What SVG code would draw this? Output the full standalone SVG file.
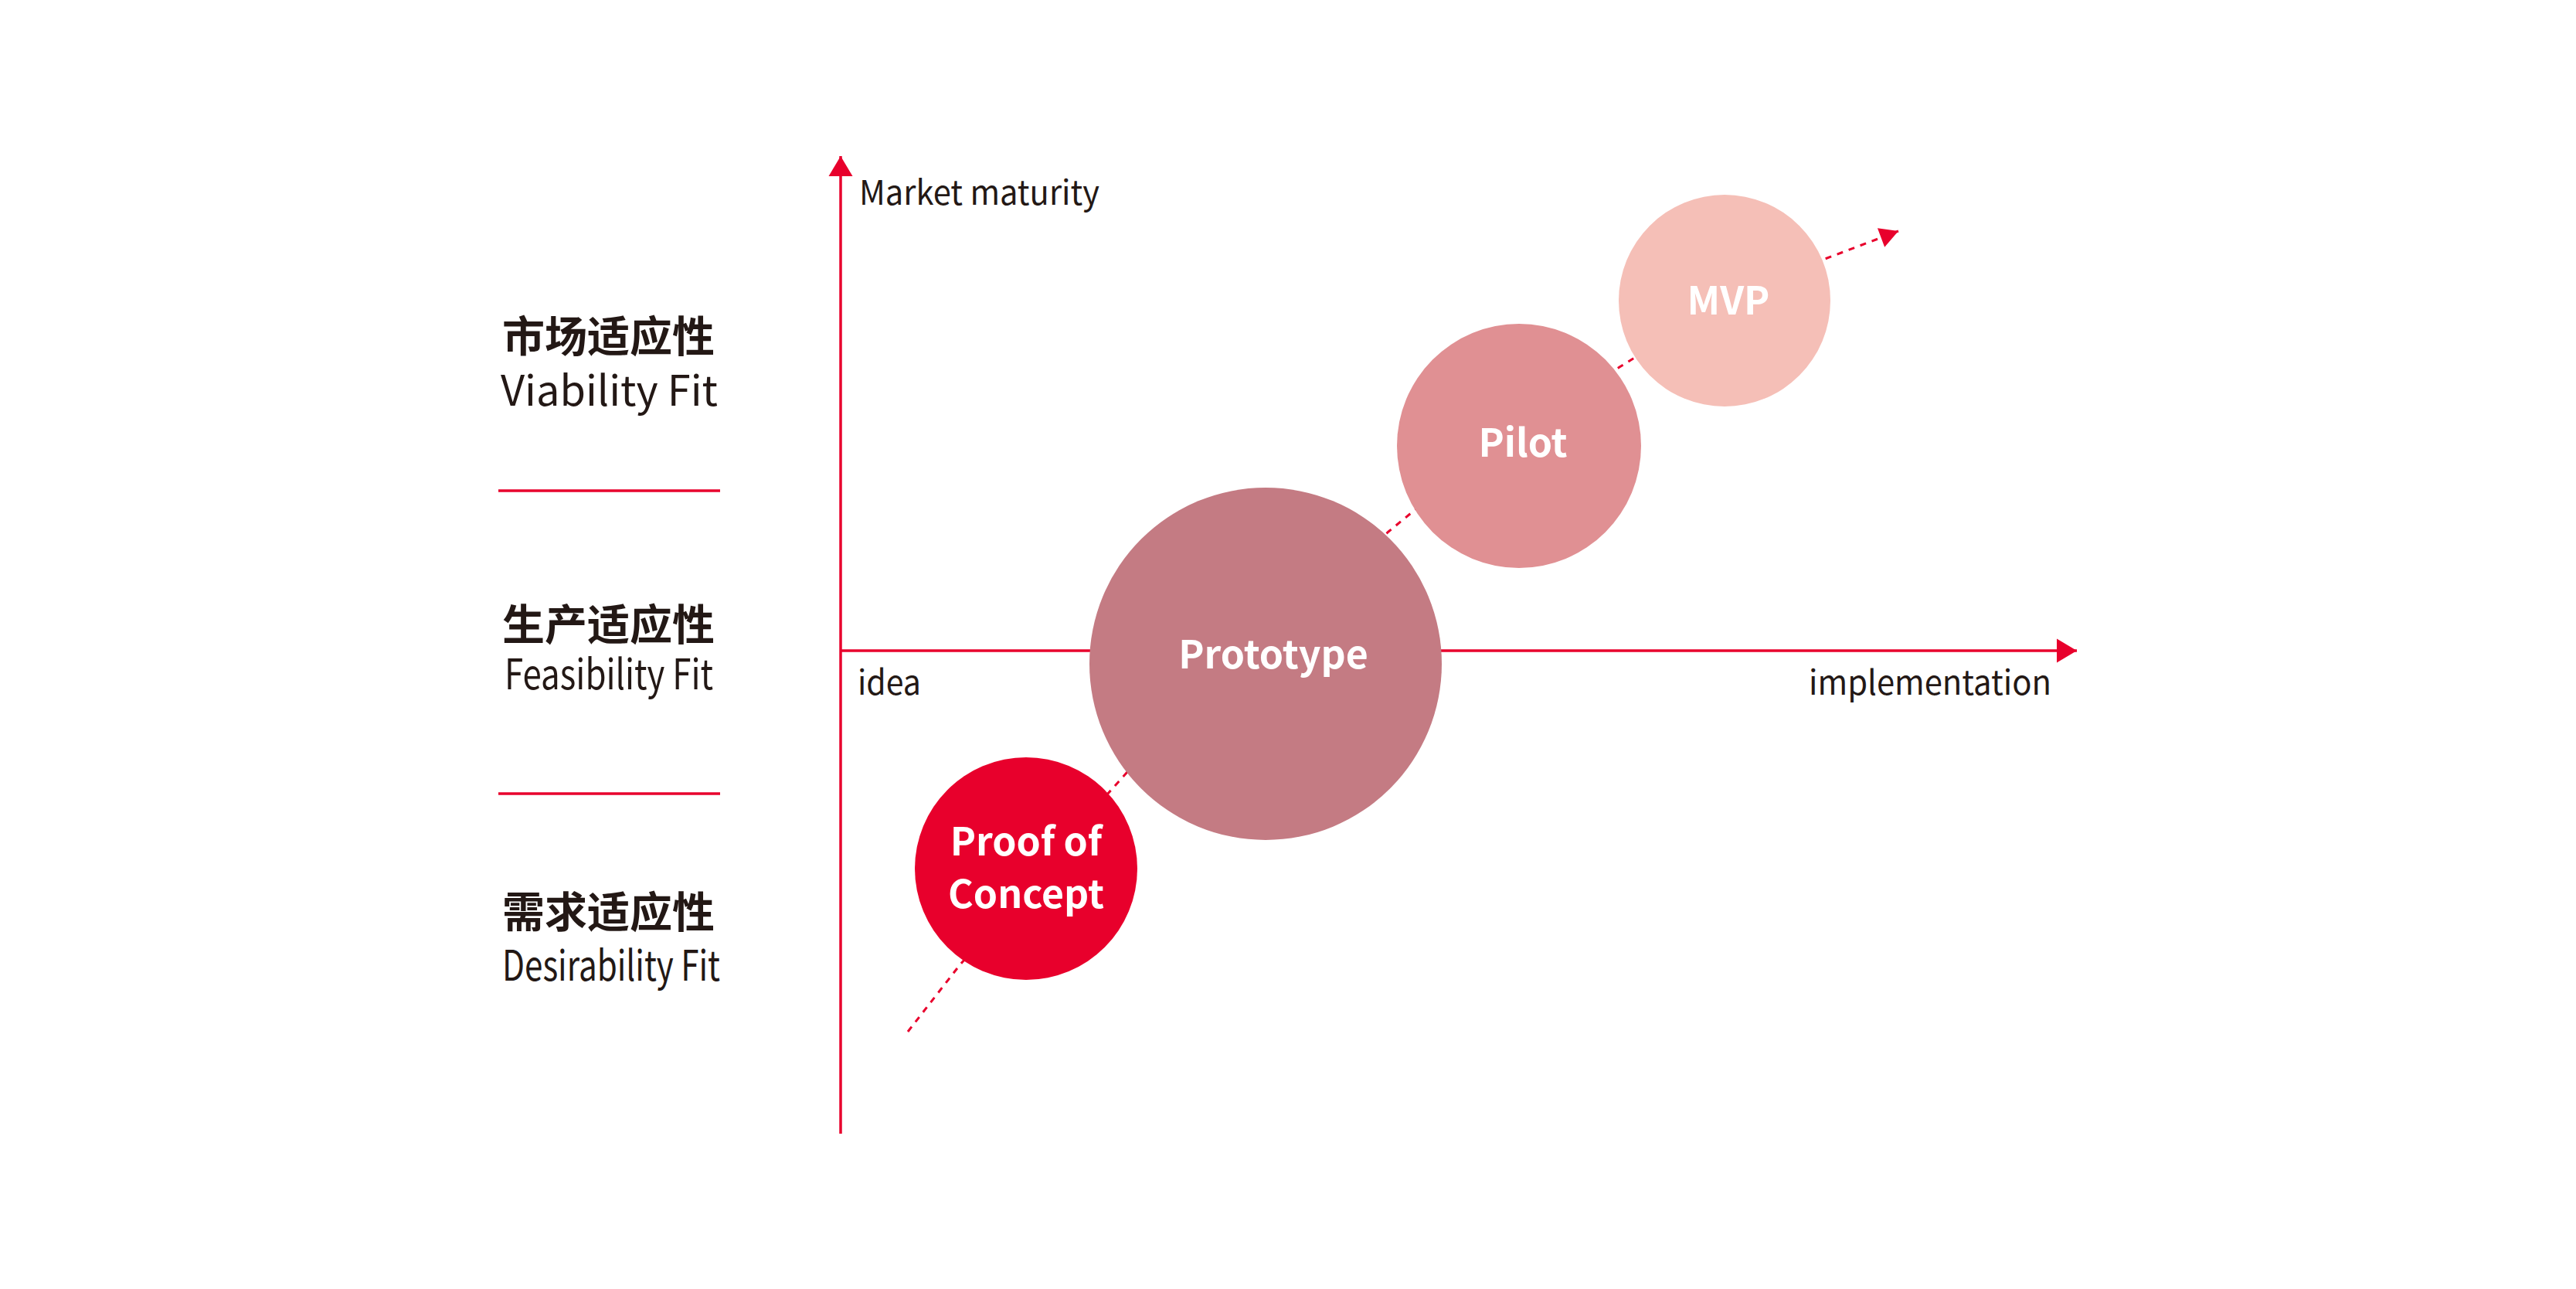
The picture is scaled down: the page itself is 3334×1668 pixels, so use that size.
<svg xmlns="http://www.w3.org/2000/svg" width="3334" height="1668" viewBox="0 0 3334 1668">
<style>
.cn{font-family:"Noto Sans CJK SC","Noto Sans",sans-serif;font-weight:700;font-size:55px;fill:#231815}
.en{font-family:"Noto Sans CJK SC","Noto Sans",sans-serif;font-weight:400;font-size:54px;fill:#231815}
.ax{font-family:"Noto Sans CJK SC","Noto Sans",sans-serif;font-weight:400;font-size:44px;fill:#231815}
.lb{font-family:"Noto Sans CJK SC","Noto Sans",sans-serif;font-weight:700;font-size:50px;fill:#ffffff;text-anchor:middle}
.axis{stroke:#E8002C;stroke-width:3.5;fill:none}
.sep{stroke:#E8002C;stroke-width:3.5}
.dash{stroke:#E8002C;stroke-width:3;fill:none;stroke-dasharray:8 8}
</style>
<defs>
<marker id="axArrow" markerUnits="userSpaceOnUse" markerWidth="40" markerHeight="40" viewBox="-30 -20 40 40" refX="0" refY="0" orient="auto">
<path d="M0,0 L-26,-15.5 L-26,15.5 Z" fill="#E8002C"/>
</marker>
<marker id="dashArrow" markerUnits="userSpaceOnUse" markerWidth="40" markerHeight="40" viewBox="-30 -20 40 40" refX="0" refY="0" orient="auto">
<path d="M0,0 L-24,-13 L-24,13 Z" fill="#E8002C"/>
</marker>
</defs>
<rect width="3334" height="1668" fill="#ffffff"/>
<g id="labels">
<text class="cn" x="650" y="455">市场适应性</text>
<text class="en" x="648" y="525" textLength="281" lengthAdjust="spacingAndGlyphs">Viability Fit</text>
<line class="sep" x1="645" y1="635" x2="932" y2="635"/>
<text class="cn" x="650" y="828">生产适应性</text>
<text class="en" x="653" y="892" textLength="270" lengthAdjust="spacingAndGlyphs">Feasibility Fit</text>
<line class="sep" x1="645" y1="1027" x2="932" y2="1027"/>
<text class="cn" x="650" y="1200">需求适应性</text>
<text class="en" x="650" y="1269" textLength="282" lengthAdjust="spacingAndGlyphs">Desirability Fit</text>
</g>
<g id="connectors">
<line class="axis" x1="1088" y1="1467" x2="1088" y2="202" marker-end="url(#axArrow)"/>
<line class="axis" x1="1088" y1="842" x2="2688" y2="842" marker-end="url(#axArrow)"/>
<path class="dash" d="M1175,1335 L1242,1249 L1433,1028 L1459,999 L1797,688 L1831,660 L2096,475 L2117,462 L2362,335 L2457,299" marker-end="url(#dashArrow)"/>
</g>
<g id="axis-labels">
<text class="ax" x="1112" y="265" textLength="311" lengthAdjust="spacingAndGlyphs">Market maturity</text>
<text class="ax" x="1110" y="899" textLength="82" lengthAdjust="spacingAndGlyphs">idea</text>
<text class="ax" x="2341" y="899" textLength="314" lengthAdjust="spacingAndGlyphs">implementation</text>
</g>
<g id="node-poc">
<circle cx="1328" cy="1124" r="144" fill="#E8002C"/>
<text class="lb" x="1328" y="1107">Proof of</text>
<text class="lb" x="1328" y="1175">Concept</text>
</g>
<g id="node-prototype">
<circle cx="1638" cy="859" r="228" fill="#C47B83"/>
<text class="lb" x="1648" y="865">Prototype</text>
</g>
<g id="node-pilot">
<circle cx="1966" cy="577" r="158" fill="#E09093"/>
<text class="lb" x="1971" y="591">Pilot</text>
</g>
<g id="node-mvp">
<circle cx="2232" cy="389" r="137" fill="#F5BFB7"/>
<text class="lb" x="2237" y="407">MVP</text>
</g>
</svg>
